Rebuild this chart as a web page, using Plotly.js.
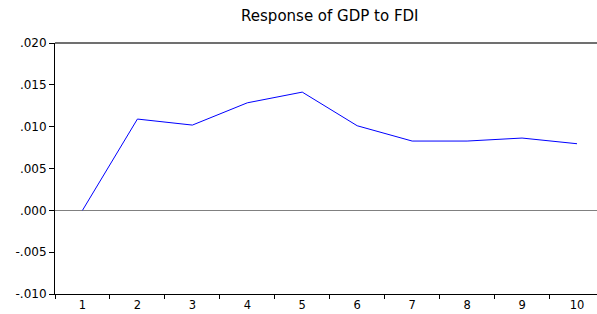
<!DOCTYPE html>
<html>
<head>
<meta charset="utf-8">
<script src="https://cdn.plot.ly/plotly-3.0.1.min.js"></script>
<style>html,body{margin:0;padding:0;background:#fff;}#chart{width:597px;height:314px;}</style>
</head>
<body>
<div id="chart"></div>
<script>
const periods = [1, 2, 3, 4, 5, 6, 7, 8, 9, 10];
const periodLabels = ["1", "2", "3", "4", "5", "6", "7", "8", "9", "10"];
const response = [0.0000, 0.01091, 0.01019, 0.01285, 0.01413, 0.01011, 0.00828, 0.00828, 0.00864, 0.00796];
const yTickVals = [-0.010, -0.005, 0.000, 0.005, 0.010, 0.015, 0.020];
const yTickText = ["-.010", "-.005", ".000", ".005", ".010", ".015", ".020"];
const chartTitle = "Response of GDP to FDI";

const trace = {
  x: periods,
  y: response,
  type: 'scatter',
  mode: 'lines',
  line: {color: '#0000ff', width: 1},
  hoverinfo: 'skip'
};

const layout = {
  width: 597,
  height: 314,
  margin: {l: 55, r: 0, t: 43, b: 20, pad: 0},
  paper_bgcolor: '#ffffff',
  plot_bgcolor: '#ffffff',
  showlegend: false,
  font: {family: 'DejaVu Sans, Arial, sans-serif', size: 12, color: '#000000'},
  title: {
    text: chartTitle,
    font: {family: 'DejaVu Sans, Arial, sans-serif', size: 15, color: '#000000'},
    xref: 'paper', x: 0.507, xanchor: 'center',
    yref: 'container', y: 1 - 16/314, yanchor: 'middle'
  },
  xaxis: {
    type: 'linear',
    range: [0.5, 10.364],
    tickmode: 'array',
    tickvals: periods,
    ticktext: periodLabels,
    ticks: '',
    tickfont: {family: 'DejaVu Sans, Arial, sans-serif', size: 11.5, color: '#000000'},
    minor: {tick0: 0.5, dtick: 1, ticks: 'outside', ticklen: 4, tickwidth: 1, tickcolor: '#000000', showgrid: false},
    showgrid: false,
    zeroline: false,
    showline: true,
    linecolor: '#000000',
    linewidth: 1,
    mirror: false,
    fixedrange: true
  },
  yaxis: {
    range: [-0.010, 0.020],
    tickmode: 'array',
    tickvals: yTickVals,
    ticktext: yTickText,
    ticks: 'outside',
    ticklen: 5,
    tickwidth: 1,
    tickcolor: '#000000',
    showgrid: false,
    zeroline: true,
    zerolinecolor: '#808080',
    zerolinewidth: 1,
    showline: true,
    linecolor: '#000000',
    linewidth: 1,
    fixedrange: true
  },
  shapes: [
    {type: 'line', xref: 'paper', yref: 'paper', x0: 0, x1: 1, y0: 1, y1: 1, line: {color: '#404040', width: 1.5}}
  ]
};

Plotly.newPlot('chart', [trace], layout, {displayModeBar: false, staticPlot: true});
</script>
</body>
</html>
